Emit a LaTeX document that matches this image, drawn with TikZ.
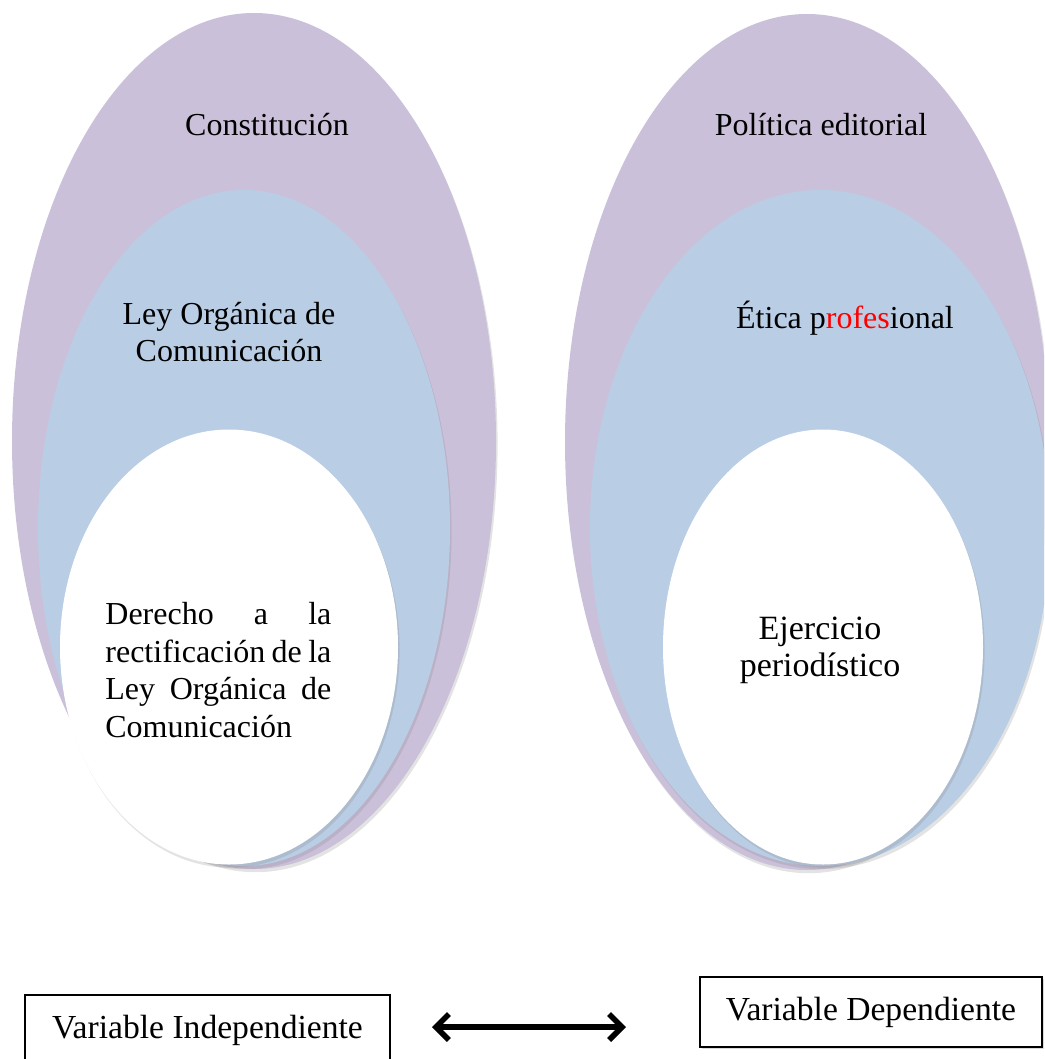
\documentclass[tikz,border=0pt]{standalone}
\usepackage{fontspec}
\setmainfont{Liberation Serif}
\usetikzlibrary{shapes.geometric, shadows, arrows.meta, positioning}
\definecolor{ringpurple}{RGB}{203,192,218}
\definecolor{ringblue}{RGB}{185,205,229}

\begin{document}
\begin{tikzpicture}[
    x=0.5pt, y=-0.5pt,
    % ellipse styles
    ring/.style={
        ellipse, draw=none, inner sep=0pt, outer sep=0pt,
        drop shadow={opacity=0.22, shadow xshift=0.8pt, shadow yshift=-1.6pt},
      },
    outer ring/.style={ring, fill=ringpurple, minimum width=242pt, minimum height=428pt},
    middle ring/.style={ring, fill=ringblue, minimum height=338pt},
    inner ring/.style={ring, fill=white, minimum height=217.5pt},
    % text styles
    ring label/.style={font=\fontsize{16}{18.75}\selectfont, align=center, inner sep=0pt},
    var box/.style={
        draw, fill=white, line width=0.6pt, minimum height=35pt, inner sep=0pt,
        font=\fontsize{16.8}{20}\selectfont,
      },
  ]
  \clip (0,0) rectangle (1044,1059);

  % --- left group ---
  \node[outer ring] (constOut) at (254,441) {};
  \node[middle ring, minimum width=206pt] (locMid) at (244,528) {};
  \node[inner ring, minimum width=169pt] (rectIn) at (229,647) {};

  \node[ring label] (constLbl) at (267,125) {Constitución};
  \node[ring label] (locLbl) at (229,332) {Ley Orgánica de\\Comunicación};
  \node[ring label, align=left, anchor=west] (rectLbl) at (105,670)
    {\makebox[113pt][s]{Derecho a la}\\
     \makebox[113pt][s]{rectificación de la}\\
     \makebox[113pt][s]{Ley Orgánica de}\\
     Comunicación};

  % --- right group ---
  \node[outer ring] (polOut) at (807,442) {};
  \node[middle ring, minimum width=230pt] (eticaMid) at (820,528) {};
  \node[inner ring, minimum width=160pt] (ejerIn) at (823,647) {};

  \node[ring label] (polLbl) at (821,125) {Política editorial};
  \node[ring label] (eticaLbl) at (845,318) {Ética p\textcolor{red}{rofes}ional};
  \node[ring label, font=\fontsize{17}{18.5}\selectfont] (ejerLbl) at (820,650)
    {Ejercicio\\periodístico};

  % --- variables ---
  \node[var box, minimum width=182.5pt] (indep) at (207.5,1030) {Variable Independiente};
  \node[var box, minimum width=171pt,
        drop shadow={opacity=0.3, shadow xshift=0.8pt, shadow yshift=-1.2pt}]
    (dep) at (871,1012) {Variable Dependiente};

  \coordinate (arrL) at (432,1027);
  \coordinate (arrR) at (626,1027);
  \draw[line width=2.8pt,
        {Straight Barb[length=6.5pt, width=13pt]}-{Straight Barb[length=6.5pt, width=13pt]}]
    (arrL) -- (arrR);
\end{tikzpicture}
\end{document}
